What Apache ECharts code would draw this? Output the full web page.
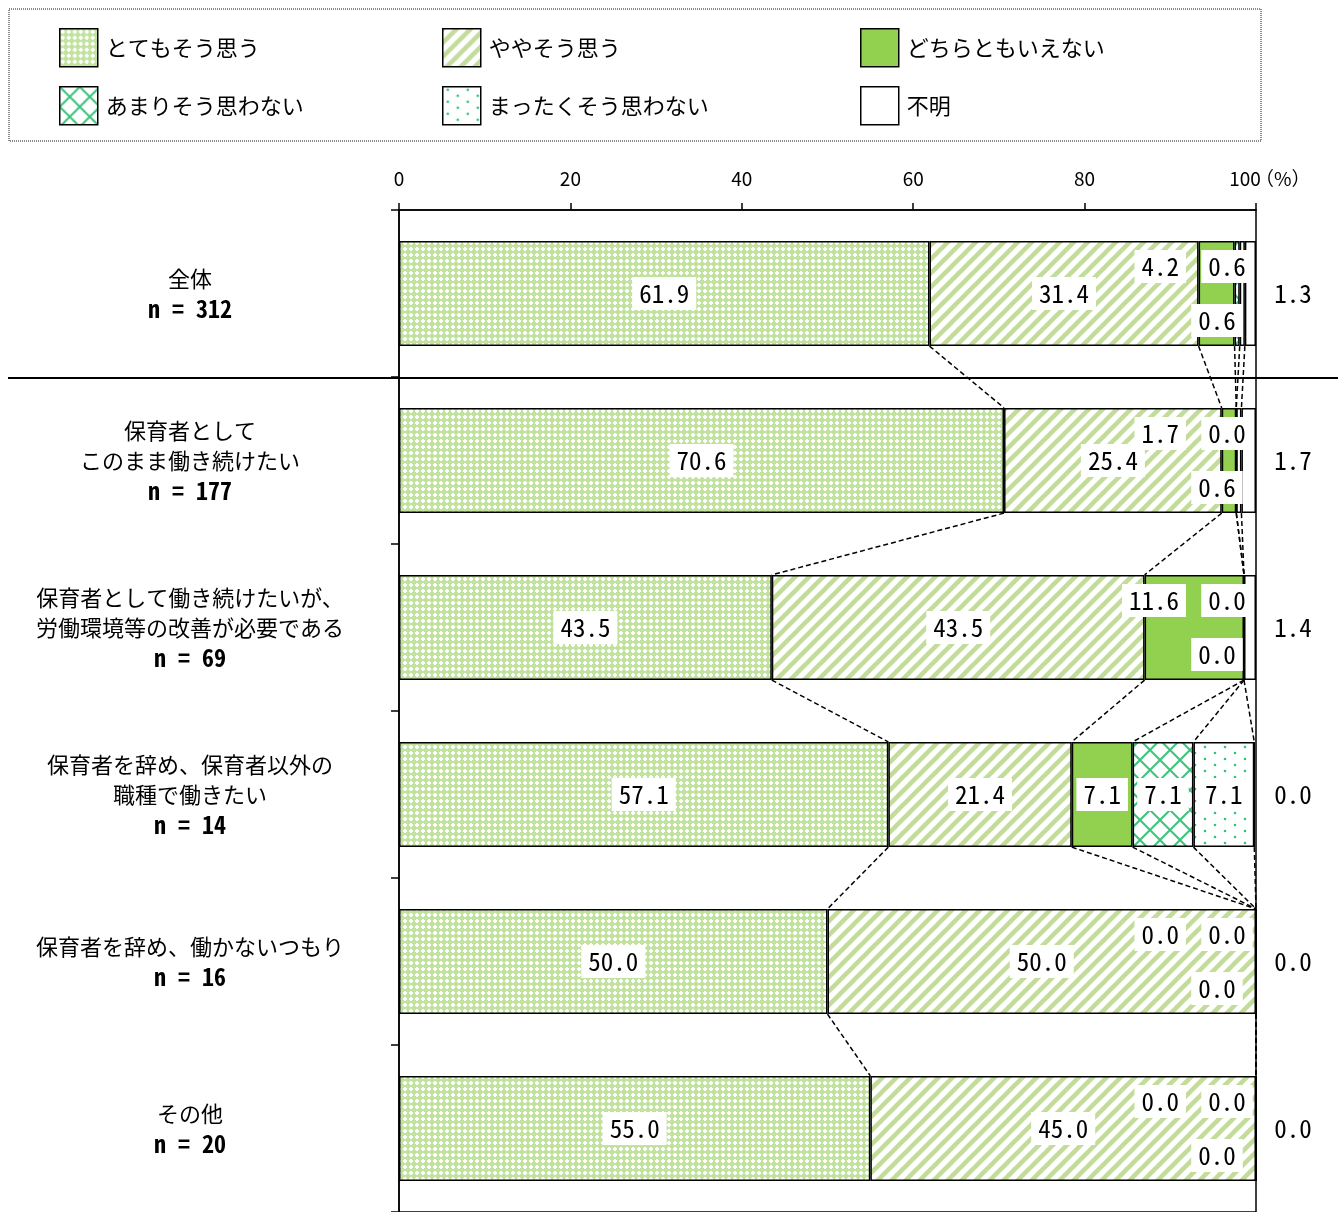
<!DOCTYPE html>
<html>
<head>
<meta charset="utf-8">
<script src="https://cdn.jsdelivr.net/npm/echarts@6/dist/echarts.min.js"></script>
<style>
  html, body { margin: 0; padding: 0; background: #fff; }
  #chart { width: 1340px; height: 1212px; }
</style>
</head>
<body>
<div id="chart"></div>
<script>
var FONT = '"Noto Sans CJK JP", "Noto Sans", sans-serif';
var MONO = '"Noto Sans Mono CJK JP", "Noto Sans CJK JP", "DejaVu Sans Mono", monospace';

// categories (top to bottom)
var categories = [
  '全体\nn = 312',
  '保育者として\nこのまま働き続けたい\nn = 177',
  '保育者として働き続けたいが、\n労働環境等の改善が必要である\nn = 69',
  '保育者を辞め、保育者以外の\n職種で働きたい\nn = 14',
  '保育者を辞め、働かないつもり\nn = 16',
  'その他\nn = 20'
];
var seriesNames = ['とてもそう思う', 'ややそう思う', 'どちらともいえない', 'あまりそう思わない', 'まったくそう思わない', '不明'];

// values (%)
var totemo   = [61.9, 70.6, 43.5, 57.1, 50.0, 55.0];
var yaya     = [31.4, 25.4, 43.5, 21.4, 50.0, 45.0];
var dochira  = [4.2, 1.7, 11.6, 7.1, 0.0, 0.0];
var amari    = [0.6, 0.0, 0.0, 7.1, 0.0, 0.0];
var mattaku  = [0.6, 0.6, 0.0, 7.1, 0.0, 0.0];
var fumei    = [1.3, 1.7, 1.4, 0.0, 0.0, 0.0];

var allValues = [totemo, yaya, dochira, amari, mattaku, fumei];

function pattern(w, h, draw) {
  var c = document.createElement('canvas');
  c.width = w; c.height = h;
  var ctx = c.getContext('2d');
  ctx.fillStyle = '#fff';
  ctx.fillRect(0, 0, w, h);
  draw(ctx);
  return { image: c, repeat: 'repeat' };
}

var colTotemo = pattern(6, 6, function (ctx) {
  ctx.fillStyle = '#c2e3a0';
  ctx.fillRect(0, 0, 6, 6);
  ctx.fillStyle = '#fff';
  ctx.fillRect(2, 1, 2, 4);
  ctx.fillRect(1, 2, 4, 2);
});
var colYaya = pattern(14, 14, function (ctx) {
  ctx.strokeStyle = '#c3dc9c';
  ctx.lineWidth = 4.5;
  [[-7, 7, 7, -7], [0, 14, 14, 0], [7, 21, 21, 7]].forEach(function (l) {
    ctx.beginPath(); ctx.moveTo(l[0], l[1]); ctx.lineTo(l[2], l[3]); ctx.stroke();
  });
});
var colAmari = pattern(20, 20, function (ctx) {
  ctx.strokeStyle = '#3cc47c';
  ctx.lineWidth = 2;
  ctx.beginPath(); ctx.moveTo(0, 0); ctx.lineTo(20, 20); ctx.stroke();
  ctx.beginPath(); ctx.moveTo(20, 0); ctx.lineTo(0, 20); ctx.stroke();
});
var colMattaku = pattern(20, 12, function (ctx) {
  ctx.fillStyle = '#2fc47a';
  [[5, 3], [15, 9]].forEach(function (d) {
    ctx.beginPath(); ctx.arc(d[0], d[1], 1.3, 0, Math.PI * 2); ctx.fill();
  });
});
var colors = [colTotemo, colYaya, '#92d050', colAmari, colMattaku, '#ffffff'];

var BAR_RATIO = 0.63;
var chart = echarts.init(document.getElementById('chart'));

function staggered(row) {
  return amari[row] < 3 && mattaku[row] < 3;
}

function placeLabel(p) {
  var row = p.dataIndex, s = p.seriesIndex;
  var right = chart.convertToPixel({ xAxisIndex: 0 }, 100);
  var cy = p.rect.y + p.rect.height / 2;
  if (s === 5) return { x: right + 37, y: cy, align: 'center', verticalAlign: 'middle' };
  if (s < 2 || !staggered(row)) return {};
  if (s === 2) return { x: right - 70, y: cy - 27, align: 'right', verticalAlign: 'middle' };
  if (s === 3) return { x: right - 29, y: cy - 27, align: 'center', verticalAlign: 'middle' };
  return { x: right - 39, y: cy + 27, align: 'center', verticalAlign: 'middle' };
}

// dashed connectors between neighbouring bars
var connectors = [];
for (var i = 0; i < categories.length - 1; i++) {
  var a = 0, b = 0;
  for (var k = 0; k < 5; k++) {
    a += allValues[k][i];
    b += allValues[k][i + 1];
    connectors.push([Math.min(a, 100), i, Math.min(b, 100), i + 1]);
  }
}

var series = seriesNames.map(function (name, idx) {
  return {
    name: name,
    type: 'bar',
    stack: 'total',
    barCategoryGap: '37%',
    data: allValues[idx],
    itemStyle: { color: colors[idx], borderColor: '#000', borderWidth: 1.5 },
    label: {
      show: true,
      position: 'inside',
      formatter: function (p) { return p.value.toFixed(1); },
      color: '#000',
      fontSize: 25,
      fontFamily: MONO,
      backgroundColor: idx === 5 ? 'transparent' : '#fff',
      padding: [4, 7]
    },
    labelLayout: placeLabel,
    emphasis: { disabled: true },
    z: 2
  };
});

series.push({
  type: 'custom',
  name: 'connector',
  data: connectors,
  encode: { x: [0, 2], y: [1, 3] },
  z: 5,
  silent: true,
  renderItem: function (params, api) {
    var p1 = api.coord([api.value(0), api.value(1)]);
    var p2 = api.coord([api.value(2), api.value(3)]);
    var half = api.size([0, 1])[1] * BAR_RATIO / 2;
    return {
      type: 'line',
      shape: { x1: p1[0], y1: p1[1] + half, x2: p2[0], y2: p2[1] - half },
      style: { stroke: '#000', lineWidth: 1.5, lineDash: [5, 3] }
    };
  }
});

var legendPos = [[59, 28], [442, 28], [860, 28], [59, 86], [442, 86], [860, 86]];
var legends = seriesNames.map(function (name, idx) {
  return {
    data: [name],
    left: legendPos[idx][0],
    top: legendPos[idx][1],
    padding: 0,
    icon: 'rect',
    itemWidth: 38,
    itemHeight: 38,
    itemGap: 0,
    selectedMode: false,
    itemStyle: { borderColor: '#000', borderWidth: 1.5 },
    textStyle: { fontSize: 22, color: '#000', fontFamily: FONT, padding: [0, 0, 0, 3] }
  };
});

var option = {
  backgroundColor: '#fff',
  animation: false,
  textStyle: { fontFamily: FONT },
  legend: legends,
  grid: {
    left: 399,
    right: 84,
    top: 210,
    bottom: -6,
    show: true,
    borderColor: '#000',
    borderWidth: 1.5
  },
  xAxis: {
    type: 'value',
    position: 'top',
    min: 0,
    max: 100,
    interval: 20,
    axisLine: { show: true, lineStyle: { color: '#000', width: 1.5 } },
    axisTick: { show: true, length: 7, lineStyle: { color: '#000', width: 1.5 } },
    splitLine: { show: false },
    axisLabel: {
      margin: 22,
      color: '#000',
      fontSize: 19,
      fontFamily: FONT,
      formatter: function (v) {
        return v === 100 ? '{pad|}100{pct|（%）}' : String(v);
      },
      rich: {
        pad: { width: 22 },
        pct: { width: 44, fontSize: 19, color: '#000', fontFamily: FONT }
      }
    }
  },
  yAxis: {
    type: 'category',
    inverse: true,
    data: categories,
    axisLine: { show: true, lineStyle: { color: '#000', width: 1.5 } },
    axisTick: { show: true, length: 8, lineStyle: { color: '#000', width: 1.5 } },
    axisLabel: {
      margin: 209,
      align: 'center',
      color: '#000',
      fontSize: 22,
      lineHeight: 30,
      fontFamily: FONT,
      formatter: function (v) {
        var lines = v.split('\n');
        var last = lines.pop();
        lines.push('{n|' + last + '}');
        return lines.join('\n');
      },
      rich: {
        n: { fontFamily: MONO, fontSize: 24, fontWeight: 'bold', lineHeight: 30, color: '#000' }
      }
    }
  },
  series: series
};

chart.setOption(option);

// separator under the "全体" row and legend frame
var c0 = chart.convertToPixel({ yAxisIndex: 0 }, 0);
var c1 = chart.convertToPixel({ yAxisIndex: 0 }, 1);
var sepY = Math.round((c0 + c1) / 2) + 1;
chart.setOption({
  graphic: [
    {
      type: 'rect',
      shape: { x: 9, y: 9, width: 1252, height: 132 },
      style: { fill: 'none', stroke: '#8a8a8a', lineWidth: 2, lineDash: [1, 1] },
      z: 0
    },
    {
      type: 'line',
      shape: { x1: 8, y1: sepY, x2: 1338, y2: sepY },
      style: { stroke: '#000', lineWidth: 2 },
      z: 10
    }
  ]
});
</script>
</body>
</html>
